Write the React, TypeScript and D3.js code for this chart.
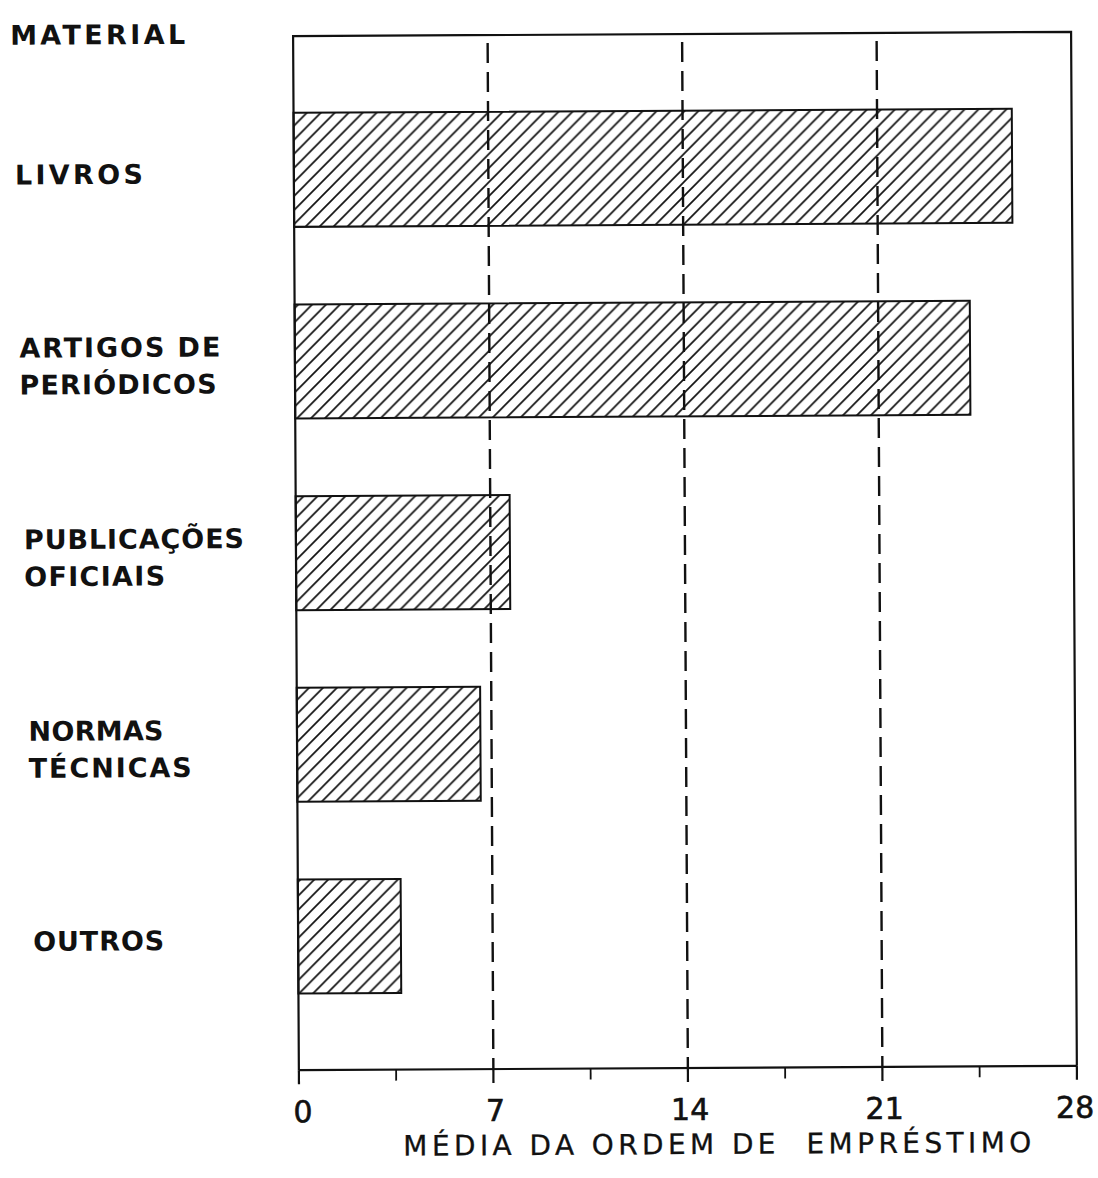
import React from "react";
import * as d3 from "d3";

const categories = ["LIVROS", "ARTIGOS DE PERIÓDICOS", "PUBLICAÇÕES OFICIAIS", "NORMAS TÉCNICAS", "OUTROS"];
const labelLines = [["LIVROS"], ["ARTIGOS DE", "PERIÓDICOS"], ["PUBLICAÇÕES", "OFICIAIS"], ["NORMAS", "TÉCNICAS"], ["OUTROS"]];
const values = [25.85, 24.3, 7.7, 6.6, 3.7];
const majorTicks = [0, 7, 14, 21, 28];
const minorTicks = [3.5, 10.5, 17.5, 24.5];
const tickLabels = ["0", "7", "14", "21", "28"];
const yTitle = "MATERIAL";
const xTitle = "MÉDIA DA ORDEM DE  EMPRÉSTIMO";

const W = 1098;
const H = 1178;
const plotLeft = 296;
const plotRight = 1074;
const plotTop = 34;
const plotBottom = 1068;
const ink = "#111";
const font = "'DejaVu Sans', Verdana, sans-serif";

// approximate text widths measured from the reference (px)
const labelWidths: Record<string, number> = {
  MATERIAL: 175,
  LIVROS: 128,
  "ARTIGOS DE": 201,
  "PERIÓDICOS": 197,
  "PUBLICAÇÕES": 220,
  OFICIAIS: 141,
  NORMAS: 135,
  "TÉCNICAS": 163,
  OUTROS: 131,
};

export default function App() {
  const x = d3.scaleLinear().domain([0, 28]).range([plotLeft, plotRight]);
  const y = d3
    .scaleBand<string>()
    .domain(categories)
    .range([plotTop, plotBottom])
    .paddingInner(0.405)
    .paddingOuter(0.4);

  const lineGap = 37;
  const fs = 27;

  return (
    <svg
      width={W}
      height={H}
      viewBox={`0 0 ${W} ${H}`}
      style={{ position: "absolute", left: 0, top: 0, display: "block", background: "#fff" }}
    >
      <defs>
        <pattern id="hatch" patternUnits="userSpaceOnUse" width={14} height={14}>
          <path
            d="M-2,2 L2,-2 M0,14 L14,0 M12,16 L16,12"
            stroke={ink}
            strokeWidth={1.7}
            fill="none"
          />
        </pattern>
      </defs>
      <rect x={0} y={0} width={W} height={H} fill="#fff" />
      <g transform="rotate(-0.32 685 555)">
        {/* frame */}
        <path
          d={`M${plotLeft},${plotBottom} L${plotLeft},${plotTop} L${plotRight},${plotTop} L${plotRight},${plotBottom}`}
          fill="none"
          stroke={ink}
          strokeWidth={2.2}
        />
        {/* dashed reference lines */}
        {majorTicks.slice(1, -1).map((t) => (
          <line
            key={`d${t}`}
            x1={x(t)}
            x2={x(t)}
            y1={plotTop + 8}
            y2={plotBottom}
            stroke={ink}
            strokeWidth={2.4}
            strokeDasharray="20,9"
          />
        ))}
        {/* bars */}
        {categories.map((c, i) => (
          <rect
            key={c}
            x={x(0)}
            y={y(c)}
            width={x(values[i]) - x(0)}
            height={y.bandwidth()}
            fill="url(#hatch)"
            stroke={ink}
            strokeWidth={2}
          />
        ))}
        {/* x axis */}
        <line x1={x(0)} x2={x(28)} y1={plotBottom} y2={plotBottom} stroke={ink} strokeWidth={2.2} />
        {majorTicks.map((t) => (
          <line key={`M${t}`} x1={x(t)} x2={x(t)} y1={plotBottom} y2={plotBottom + 14} stroke={ink} strokeWidth={2.2} />
        ))}
        {minorTicks.map((t) => (
          <line key={`m${t}`} x1={x(t)} x2={x(t)} y1={plotBottom} y2={plotBottom + 11} stroke={ink} strokeWidth={1.8} />
        ))}
        {majorTicks.map((t, i) => (
          <text
            key={`l${t}`}
            x={x(t) + (i === 0 ? 4 : i === majorTicks.length - 1 ? -2 : 2)}
            y={1120}
            textAnchor="middle"
            fontFamily={font}
            fontSize={30}
            fill={ink}
            stroke={ink}
            strokeWidth={0.6}
          >
            {tickLabels[i]}
          </text>
        ))}
        <text
          x={400}
          y={1154}
          fontFamily={font}
          fontSize={28}
          fill={ink}
          stroke={ink}
          strokeWidth={0.3}
          textLength={628}
          lengthAdjust="spacing"
          style={{ whiteSpace: "pre" }}
        >
          {xTitle}
        </text>
        {/* y title */}
        <text
          x={13}
          y={41}
          fontFamily={font}
          fontSize={fs}
          fontWeight="bold"
          fill={ink}
          textLength={labelWidths[yTitle]}
          lengthAdjust="spacing"
        >
          {yTitle}
        </text>
        {/* category labels */}
        {categories.map((c, i) => {
          const lines = labelLines[i];
          const center = (y(c) as number) + y.bandwidth() / 2 + 3;
          const first = center - ((lines.length - 1) * lineGap) / 2 + 10;
          const lx = 17 + i * 3.5;
          return lines.map((ln, j) => (
            <text
              key={`${c}-${j}`}
              x={lx}
              y={first + j * lineGap}
              fontFamily={font}
              fontSize={fs}
              fontWeight="bold"
              fill={ink}
              textLength={labelWidths[ln]}
              lengthAdjust="spacing"
            >
              {ln}
            </text>
          ));
        })}
      </g>
    </svg>
  );
}
